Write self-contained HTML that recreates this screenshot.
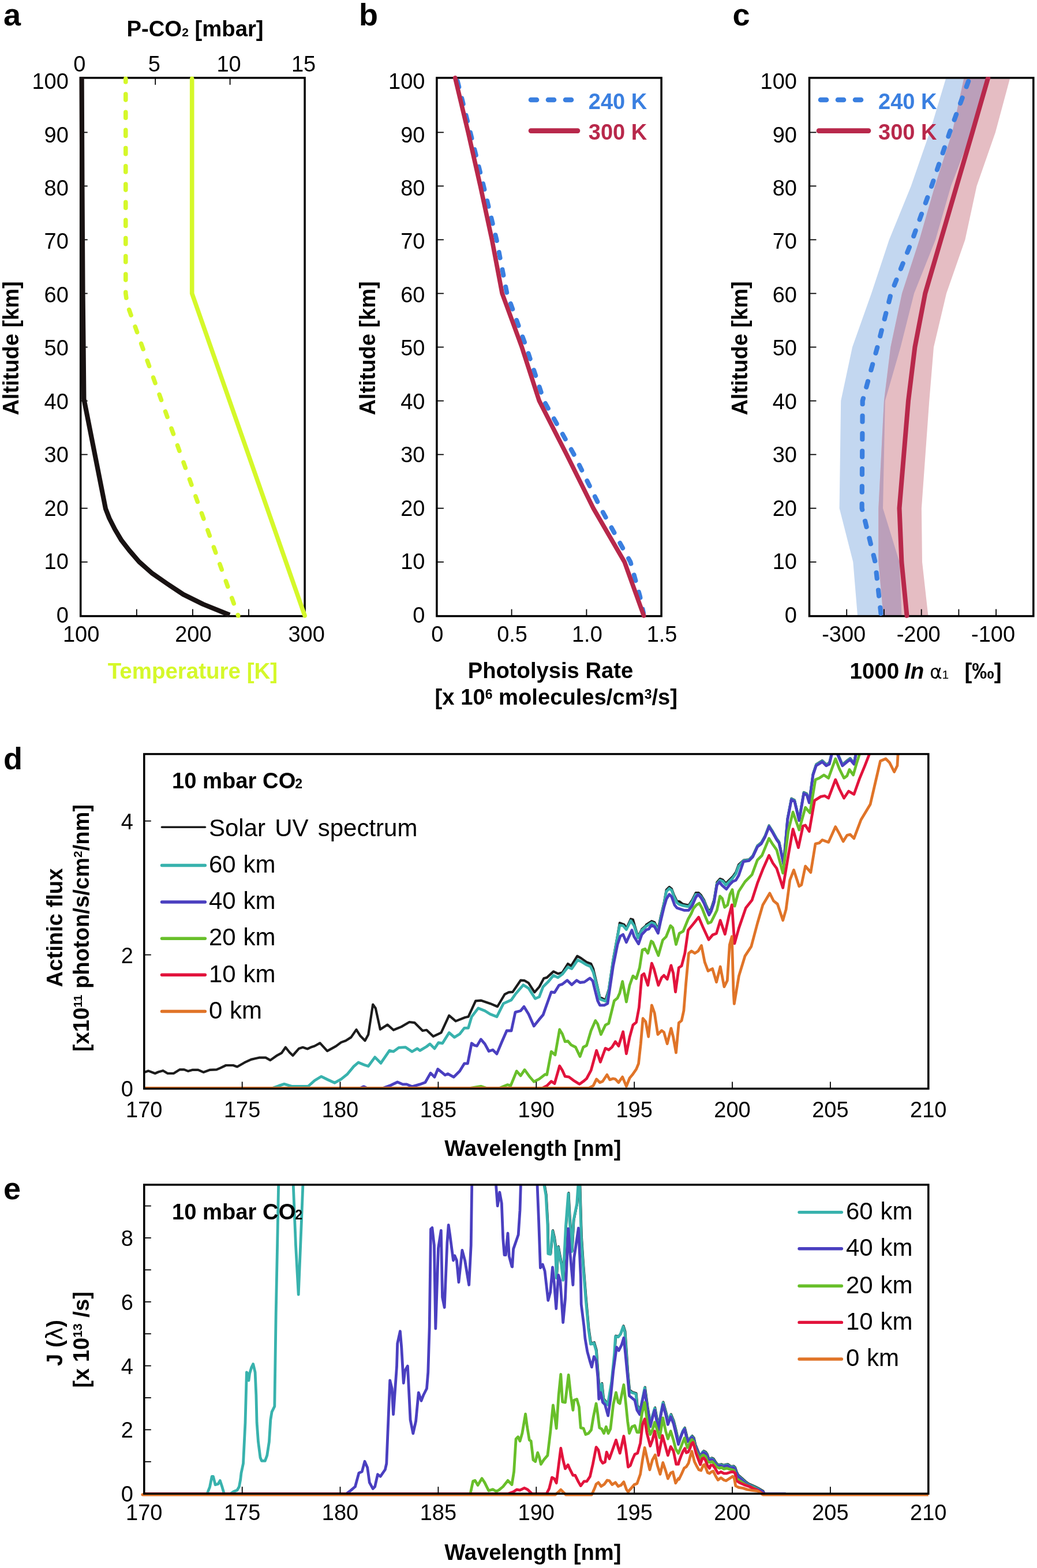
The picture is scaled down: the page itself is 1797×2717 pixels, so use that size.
<!DOCTYPE html>
<html><head><meta charset="utf-8"><title>Figure</title>
<style>html,body{margin:0;padding:0;background:#fff;}svg{display:block;}</style>
</head><body>
<svg width="1797" height="2717" viewBox="0 0 1797 2717">
<rect width="1797" height="2717" fill="#fff"/>
<defs>
<clipPath id="clipd"><rect x="249.8" y="1306.6" width="1359.0" height="585.8"/></clipPath>
<clipPath id="clipe"><rect x="243.8" y="2052.9" width="1365.0" height="541.3"/></clipPath>
<clipPath id="clipc"><rect x="1402.5" y="134.9" width="388.3" height="932.7"/></clipPath>
<clipPath id="clipc2"><rect x="1402.5" y="133.2" width="388.3" height="937.7"/></clipPath>
</defs>
<text x="6.0" y="44.0" font-size="54" text-anchor="start" font-weight="bold" fill="#000" font-family='"Liberation Sans", Arial, Helvetica, sans-serif' >a</text>
<rect x="139.7" y="134.9" width="388.4" height="932.7" fill="none" stroke="#000" stroke-width="3.5"/>
<line x1="139.7" y1="973.8" x2="151.7" y2="973.8" stroke="#000" stroke-width="1.8" />
<line x1="139.7" y1="880.7" x2="151.7" y2="880.7" stroke="#000" stroke-width="1.8" />
<line x1="139.7" y1="787.6" x2="151.7" y2="787.6" stroke="#000" stroke-width="1.8" />
<line x1="139.7" y1="694.6" x2="151.7" y2="694.6" stroke="#000" stroke-width="1.8" />
<line x1="139.7" y1="601.5" x2="151.7" y2="601.5" stroke="#000" stroke-width="1.8" />
<line x1="139.7" y1="508.5" x2="151.7" y2="508.5" stroke="#000" stroke-width="1.8" />
<line x1="139.7" y1="415.4" x2="151.7" y2="415.4" stroke="#000" stroke-width="1.8" />
<line x1="139.7" y1="322.4" x2="151.7" y2="322.4" stroke="#000" stroke-width="1.8" />
<line x1="139.7" y1="229.4" x2="151.7" y2="229.4" stroke="#000" stroke-width="1.8" />
<line x1="236.8" y1="1067.6" x2="236.8" y2="1055.6" stroke="#000" stroke-width="1.8" />
<line x1="333.9" y1="1067.6" x2="333.9" y2="1055.6" stroke="#000" stroke-width="1.8" />
<line x1="431.0" y1="1067.6" x2="431.0" y2="1055.6" stroke="#000" stroke-width="1.8" />
<line x1="269.2" y1="134.9" x2="269.2" y2="146.9" stroke="#000" stroke-width="1.8" />
<line x1="398.6" y1="134.9" x2="398.6" y2="146.9" stroke="#000" stroke-width="1.8" />
<polyline points="217.8,136.3 217.8,508.5 220.3,527.1 412.7,1066.8" fill="none" stroke="#d5f82a" stroke-width="7.6" stroke-linejoin="round" stroke-dasharray="10.1 21.1" stroke-dashoffset="4.5" stroke-linecap="round"/>
<polyline points="332.7,136.3 332.7,508.5 528.1,1066.8" fill="none" stroke="#d5f82a" stroke-width="7.6" stroke-linejoin="round" stroke-linecap="round" />
<polyline points="141.6,133.3 142.4,320.0 143.5,507.0 144.5,600.0 145.4,691.4 183.0,881.5 189.4,898.0 199.0,917.0 210.5,936.3 223.9,953.5 241.0,973.4 264.0,993.7 289.0,1011.0 317.6,1030.0 352.0,1047.0 398.0,1065.6" fill="none" stroke="#181212" stroke-width="8.2" stroke-linejoin="round" stroke-linecap="butt"/>
<text x="118.8" y="1078.5" font-size="38" text-anchor="end" font-weight="normal" fill="#000" font-family='"Liberation Sans", Arial, Helvetica, sans-serif' >0</text>
<text x="118.8" y="986.1" font-size="38" text-anchor="end" font-weight="normal" fill="#000" font-family='"Liberation Sans", Arial, Helvetica, sans-serif' >10</text>
<text x="118.8" y="893.6" font-size="38" text-anchor="end" font-weight="normal" fill="#000" font-family='"Liberation Sans", Arial, Helvetica, sans-serif' >20</text>
<text x="118.8" y="801.1" font-size="38" text-anchor="end" font-weight="normal" fill="#000" font-family='"Liberation Sans", Arial, Helvetica, sans-serif' >30</text>
<text x="118.8" y="708.7" font-size="38" text-anchor="end" font-weight="normal" fill="#000" font-family='"Liberation Sans", Arial, Helvetica, sans-serif' >40</text>
<text x="118.8" y="616.2" font-size="38" text-anchor="end" font-weight="normal" fill="#000" font-family='"Liberation Sans", Arial, Helvetica, sans-serif' >50</text>
<text x="118.8" y="523.8" font-size="38" text-anchor="end" font-weight="normal" fill="#000" font-family='"Liberation Sans", Arial, Helvetica, sans-serif' >60</text>
<text x="118.8" y="431.3" font-size="38" text-anchor="end" font-weight="normal" fill="#000" font-family='"Liberation Sans", Arial, Helvetica, sans-serif' >70</text>
<text x="118.8" y="338.9" font-size="38" text-anchor="end" font-weight="normal" fill="#000" font-family='"Liberation Sans", Arial, Helvetica, sans-serif' >80</text>
<text x="118.8" y="246.5" font-size="38" text-anchor="end" font-weight="normal" fill="#000" font-family='"Liberation Sans", Arial, Helvetica, sans-serif' >90</text>
<text x="118.8" y="154.0" font-size="38" text-anchor="end" font-weight="normal" fill="#000" font-family='"Liberation Sans", Arial, Helvetica, sans-serif' >100</text>
<text x="140.7" y="1111.5" font-size="38" text-anchor="middle" font-weight="normal" fill="#000" font-family='"Liberation Sans", Arial, Helvetica, sans-serif' >100</text>
<text x="334.9" y="1111.5" font-size="38" text-anchor="middle" font-weight="normal" fill="#000" font-family='"Liberation Sans", Arial, Helvetica, sans-serif' >200</text>
<text x="531.1" y="1111.5" font-size="38" text-anchor="middle" font-weight="normal" fill="#000" font-family='"Liberation Sans", Arial, Helvetica, sans-serif' >300</text>
<text x="137.7" y="123.5" font-size="38" text-anchor="middle" font-weight="normal" fill="#000" font-family='"Liberation Sans", Arial, Helvetica, sans-serif' >0</text>
<text x="267.2" y="123.5" font-size="38" text-anchor="middle" font-weight="normal" fill="#000" font-family='"Liberation Sans", Arial, Helvetica, sans-serif' >5</text>
<text x="396.6" y="123.5" font-size="38" text-anchor="middle" font-weight="normal" fill="#000" font-family='"Liberation Sans", Arial, Helvetica, sans-serif' >10</text>
<text x="526.1" y="123.5" font-size="38" text-anchor="middle" font-weight="normal" fill="#000" font-family='"Liberation Sans", Arial, Helvetica, sans-serif' >15</text>
<text x="338.0" y="62.7" font-size="38.3" text-anchor="middle" font-weight="bold" fill="#000" font-family='"Liberation Sans", Arial, Helvetica, sans-serif' >P-CO<tspan font-size="21">2</tspan> [mbar]</text>
<text x="333.9" y="1176.0" font-size="38.5" text-anchor="middle" font-weight="bold" fill="#d5f82a" font-family='"Liberation Sans", Arial, Helvetica, sans-serif' >Temperature [K]</text>
<text x="31.8" y="603.5" font-size="38" text-anchor="middle" font-weight="bold" fill="#000" font-family='"Liberation Sans", Arial, Helvetica, sans-serif' transform="rotate(-90 31.8 603.5)">Altitude [km]</text>
<text x="622.0" y="44.0" font-size="54" text-anchor="start" font-weight="bold" fill="#000" font-family='"Liberation Sans", Arial, Helvetica, sans-serif' >b</text>
<rect x="756.9" y="134.9" width="389.2" height="932.7" fill="none" stroke="#000" stroke-width="3.5"/>
<line x1="756.9" y1="973.8" x2="768.9" y2="973.8" stroke="#000" stroke-width="1.8" />
<line x1="756.9" y1="880.7" x2="768.9" y2="880.7" stroke="#000" stroke-width="1.8" />
<line x1="756.9" y1="787.6" x2="768.9" y2="787.6" stroke="#000" stroke-width="1.8" />
<line x1="756.9" y1="694.6" x2="768.9" y2="694.6" stroke="#000" stroke-width="1.8" />
<line x1="756.9" y1="601.5" x2="768.9" y2="601.5" stroke="#000" stroke-width="1.8" />
<line x1="756.9" y1="508.5" x2="768.9" y2="508.5" stroke="#000" stroke-width="1.8" />
<line x1="756.9" y1="415.4" x2="768.9" y2="415.4" stroke="#000" stroke-width="1.8" />
<line x1="756.9" y1="322.4" x2="768.9" y2="322.4" stroke="#000" stroke-width="1.8" />
<line x1="756.9" y1="229.4" x2="768.9" y2="229.4" stroke="#000" stroke-width="1.8" />
<line x1="886.6" y1="1067.6" x2="886.6" y2="1055.6" stroke="#000" stroke-width="1.8" />
<line x1="1016.4" y1="1067.6" x2="1016.4" y2="1055.6" stroke="#000" stroke-width="1.8" />
<polyline points="791.4,134.9 815.0,229.4 838.0,322.4 860.5,415.4 878.5,508.5 912.0,601.5 942.6,694.6 994.7,787.6 1041.0,880.7 1092.5,973.8 1109.0,1033.3 1115.0,1062.1" fill="none" stroke="#3a7fe0" stroke-width="8" stroke-linejoin="round" stroke-linecap="round" stroke-dasharray="10 20.5" stroke-dashoffset="-6"/>
<polyline points="788.7,134.9 811.3,229.4 832.4,322.4 852.5,415.4 870.2,508.5 904.3,601.5 934.4,694.6 981.9,787.6 1028.2,880.7 1082.2,973.8 1115.6,1066.8" fill="none" stroke="#b8284b" stroke-width="7.7" stroke-linejoin="round" stroke-linecap="round" />
<text x="736.5" y="1078.5" font-size="38" text-anchor="end" font-weight="normal" fill="#000" font-family='"Liberation Sans", Arial, Helvetica, sans-serif' >0</text>
<text x="736.5" y="986.1" font-size="38" text-anchor="end" font-weight="normal" fill="#000" font-family='"Liberation Sans", Arial, Helvetica, sans-serif' >10</text>
<text x="736.5" y="893.6" font-size="38" text-anchor="end" font-weight="normal" fill="#000" font-family='"Liberation Sans", Arial, Helvetica, sans-serif' >20</text>
<text x="736.5" y="801.1" font-size="38" text-anchor="end" font-weight="normal" fill="#000" font-family='"Liberation Sans", Arial, Helvetica, sans-serif' >30</text>
<text x="736.5" y="708.7" font-size="38" text-anchor="end" font-weight="normal" fill="#000" font-family='"Liberation Sans", Arial, Helvetica, sans-serif' >40</text>
<text x="736.5" y="616.2" font-size="38" text-anchor="end" font-weight="normal" fill="#000" font-family='"Liberation Sans", Arial, Helvetica, sans-serif' >50</text>
<text x="736.5" y="523.8" font-size="38" text-anchor="end" font-weight="normal" fill="#000" font-family='"Liberation Sans", Arial, Helvetica, sans-serif' >60</text>
<text x="736.5" y="431.3" font-size="38" text-anchor="end" font-weight="normal" fill="#000" font-family='"Liberation Sans", Arial, Helvetica, sans-serif' >70</text>
<text x="736.5" y="338.9" font-size="38" text-anchor="end" font-weight="normal" fill="#000" font-family='"Liberation Sans", Arial, Helvetica, sans-serif' >80</text>
<text x="736.5" y="246.5" font-size="38" text-anchor="end" font-weight="normal" fill="#000" font-family='"Liberation Sans", Arial, Helvetica, sans-serif' >90</text>
<text x="736.5" y="154.0" font-size="38" text-anchor="end" font-weight="normal" fill="#000" font-family='"Liberation Sans", Arial, Helvetica, sans-serif' >100</text>
<text x="757.9" y="1111.5" font-size="38" text-anchor="middle" font-weight="normal" fill="#000" font-family='"Liberation Sans", Arial, Helvetica, sans-serif' >0</text>
<text x="887.6" y="1111.5" font-size="38" text-anchor="middle" font-weight="normal" fill="#000" font-family='"Liberation Sans", Arial, Helvetica, sans-serif' >0.5</text>
<text x="1017.4" y="1111.5" font-size="38" text-anchor="middle" font-weight="normal" fill="#000" font-family='"Liberation Sans", Arial, Helvetica, sans-serif' >1.0</text>
<text x="1147.1" y="1111.5" font-size="38" text-anchor="middle" font-weight="normal" fill="#000" font-family='"Liberation Sans", Arial, Helvetica, sans-serif' >1.5</text>
<line x1="916.0" y1="173.0" x2="995.0" y2="173.0" stroke="#3a7fe0" stroke-width="8.6" stroke-dasharray="10 20" stroke-linecap="round" stroke-dashoffset="-4"/>
<text x="1019.8" y="188.7" font-size="38" text-anchor="start" font-weight="bold" fill="#3a7fe0" font-family='"Liberation Sans", Arial, Helvetica, sans-serif' >240 K</text>
<line x1="920.0" y1="226.6" x2="1001.0" y2="226.6" stroke="#b8284b" stroke-width="8.6" stroke-linecap="round"/>
<text x="1019.8" y="241.9" font-size="38" text-anchor="start" font-weight="bold" fill="#b8284b" font-family='"Liberation Sans", Arial, Helvetica, sans-serif' >300 K</text>
<text x="954.0" y="1175.0" font-size="38.2" text-anchor="middle" font-weight="bold" fill="#000" font-family='"Liberation Sans", Arial, Helvetica, sans-serif' >Photolysis Rate</text>
<text x="963.8" y="1221.0" font-size="38.2" text-anchor="middle" font-weight="bold" fill="#000" font-family='"Liberation Sans", Arial, Helvetica, sans-serif' >[x 10<tspan font-size="23" dy="-10">6</tspan><tspan dy="10"> molecules/cm</tspan><tspan font-size="23" dy="-10">3</tspan><tspan dy="10">/s]</tspan></text>
<text x="649.8" y="603.5" font-size="38" text-anchor="middle" font-weight="bold" fill="#000" font-family='"Liberation Sans", Arial, Helvetica, sans-serif' transform="rotate(-90 649.8 603.5)">Altitude [km]</text>
<text x="1269.5" y="44.0" font-size="54" text-anchor="start" font-weight="bold" fill="#000" font-family='"Liberation Sans", Arial, Helvetica, sans-serif' >c</text>
<g clip-path="url(#clipc)">
<clipPath id="clipred"><polygon points="1530.7,1066.8 1522.3,973.8 1522.3,880.7 1531.9,694.6 1543.3,601.5 1563.0,508.5 1593.2,415.4 1620.0,322.4 1650.1,229.4 1670.2,136.3 1750.0,136.3 1724.9,229.4 1692.5,322.4 1672.4,415.4 1640.0,508.5 1618.0,601.5 1610.3,694.6 1596.9,880.7 1598.0,973.8 1608.4,1066.8"/></clipPath>
<polygon points="1486.0,1066.8 1478.3,973.8 1454.6,880.7 1457.2,694.6 1477.0,601.5 1510.0,508.5 1540.8,415.4 1578.7,322.4 1611.0,229.4 1639.0,136.3 1709.0,136.3 1683.6,229.4 1647.9,322.4 1621.1,415.4 1584.0,508.5 1560.6,601.5 1533.8,694.6 1530.0,880.7 1558.6,973.8 1562.5,1066.8" fill="#c3d7f0"/>
<polygon points="1530.7,1066.8 1522.3,973.8 1522.3,880.7 1531.9,694.6 1543.3,601.5 1563.0,508.5 1593.2,415.4 1620.0,322.4 1650.1,229.4 1670.2,136.3 1750.0,136.3 1724.9,229.4 1692.5,322.4 1672.4,415.4 1640.0,508.5 1618.0,601.5 1610.3,694.6 1596.9,880.7 1598.0,973.8 1608.4,1066.8" fill="#e5bdc3"/>
<polygon points="1486.0,1066.8 1478.3,973.8 1454.6,880.7 1457.2,694.6 1477.0,601.5 1510.0,508.5 1540.8,415.4 1578.7,322.4 1611.0,229.4 1639.0,136.3 1709.0,136.3 1683.6,229.4 1647.9,322.4 1621.1,415.4 1584.0,508.5 1560.6,601.5 1533.8,694.6 1530.0,880.7 1558.6,973.8 1562.5,1066.8" fill="#bb9fba" clip-path="url(#clipred)"/>
</g>
<rect x="1402.5" y="134.9" width="388.3" height="932.7" fill="none" stroke="#000" stroke-width="3.5"/>
<line x1="1402.5" y1="973.8" x2="1414.5" y2="973.8" stroke="#000" stroke-width="1.8" />
<line x1="1402.5" y1="880.7" x2="1414.5" y2="880.7" stroke="#000" stroke-width="1.8" />
<line x1="1402.5" y1="787.6" x2="1414.5" y2="787.6" stroke="#000" stroke-width="1.8" />
<line x1="1402.5" y1="694.6" x2="1414.5" y2="694.6" stroke="#000" stroke-width="1.8" />
<line x1="1402.5" y1="601.5" x2="1414.5" y2="601.5" stroke="#000" stroke-width="1.8" />
<line x1="1402.5" y1="508.5" x2="1414.5" y2="508.5" stroke="#000" stroke-width="1.8" />
<line x1="1402.5" y1="415.4" x2="1414.5" y2="415.4" stroke="#000" stroke-width="1.8" />
<line x1="1402.5" y1="322.4" x2="1414.5" y2="322.4" stroke="#000" stroke-width="1.8" />
<line x1="1402.5" y1="229.4" x2="1414.5" y2="229.4" stroke="#000" stroke-width="1.8" />
<line x1="1467.2" y1="1067.6" x2="1467.2" y2="1055.6" stroke="#000" stroke-width="1.8" />
<line x1="1531.9" y1="1067.6" x2="1531.9" y2="1055.6" stroke="#000" stroke-width="1.8" />
<line x1="1596.7" y1="1067.6" x2="1596.7" y2="1055.6" stroke="#000" stroke-width="1.8" />
<line x1="1661.4" y1="1067.6" x2="1661.4" y2="1055.6" stroke="#000" stroke-width="1.8" />
<line x1="1726.1" y1="1067.6" x2="1726.1" y2="1055.6" stroke="#000" stroke-width="1.8" />
<g clip-path="url(#clipc2)">
<polyline points="1526.9,1066.8 1516.6,973.8 1493.6,880.7 1494.7,694.6 1520.4,601.5 1544.0,508.5 1581.0,415.4 1614.4,322.4 1645.7,229.4 1680.3,134.9" fill="none" stroke="#3a7fe0" stroke-width="8.2" stroke-linejoin="round" stroke-linecap="round" stroke-dasharray="10 20.5" stroke-dashoffset="-4"/>
<polyline points="1571.5,1066.8 1562.4,973.8 1558.5,880.7 1574.0,694.6 1585.4,601.5 1603.2,508.5 1630.5,415.4 1657.7,322.4 1685.0,229.4 1712.2,134.9" fill="none" stroke="#b8284b" stroke-width="8.0" stroke-linejoin="round" stroke-linecap="round" />
</g>
<text x="1381.0" y="1078.5" font-size="38" text-anchor="end" font-weight="normal" fill="#000" font-family='"Liberation Sans", Arial, Helvetica, sans-serif' >0</text>
<text x="1381.0" y="986.1" font-size="38" text-anchor="end" font-weight="normal" fill="#000" font-family='"Liberation Sans", Arial, Helvetica, sans-serif' >10</text>
<text x="1381.0" y="893.6" font-size="38" text-anchor="end" font-weight="normal" fill="#000" font-family='"Liberation Sans", Arial, Helvetica, sans-serif' >20</text>
<text x="1381.0" y="801.1" font-size="38" text-anchor="end" font-weight="normal" fill="#000" font-family='"Liberation Sans", Arial, Helvetica, sans-serif' >30</text>
<text x="1381.0" y="708.7" font-size="38" text-anchor="end" font-weight="normal" fill="#000" font-family='"Liberation Sans", Arial, Helvetica, sans-serif' >40</text>
<text x="1381.0" y="616.2" font-size="38" text-anchor="end" font-weight="normal" fill="#000" font-family='"Liberation Sans", Arial, Helvetica, sans-serif' >50</text>
<text x="1381.0" y="523.8" font-size="38" text-anchor="end" font-weight="normal" fill="#000" font-family='"Liberation Sans", Arial, Helvetica, sans-serif' >60</text>
<text x="1381.0" y="431.3" font-size="38" text-anchor="end" font-weight="normal" fill="#000" font-family='"Liberation Sans", Arial, Helvetica, sans-serif' >70</text>
<text x="1381.0" y="338.9" font-size="38" text-anchor="end" font-weight="normal" fill="#000" font-family='"Liberation Sans", Arial, Helvetica, sans-serif' >80</text>
<text x="1381.0" y="246.5" font-size="38" text-anchor="end" font-weight="normal" fill="#000" font-family='"Liberation Sans", Arial, Helvetica, sans-serif' >90</text>
<text x="1381.0" y="154.0" font-size="38" text-anchor="end" font-weight="normal" fill="#000" font-family='"Liberation Sans", Arial, Helvetica, sans-serif' >100</text>
<text x="1462.2" y="1111.5" font-size="38" text-anchor="middle" font-weight="normal" fill="#000" font-family='"Liberation Sans", Arial, Helvetica, sans-serif' >-300</text>
<text x="1591.7" y="1111.5" font-size="38" text-anchor="middle" font-weight="normal" fill="#000" font-family='"Liberation Sans", Arial, Helvetica, sans-serif' >-200</text>
<text x="1721.1" y="1111.5" font-size="38" text-anchor="middle" font-weight="normal" fill="#000" font-family='"Liberation Sans", Arial, Helvetica, sans-serif' >-100</text>
<line x1="1418.0" y1="173.0" x2="1497.0" y2="173.0" stroke="#3a7fe0" stroke-width="8.6" stroke-dasharray="10 20" stroke-linecap="round" stroke-dashoffset="-4"/>
<text x="1522.0" y="188.7" font-size="38" text-anchor="start" font-weight="bold" fill="#3a7fe0" font-family='"Liberation Sans", Arial, Helvetica, sans-serif' >240 K</text>
<line x1="1419.0" y1="226.6" x2="1505.0" y2="226.6" stroke="#b8284b" stroke-width="8.6" stroke-linecap="round"/>
<text x="1522.0" y="241.9" font-size="38" text-anchor="start" font-weight="bold" fill="#b8284b" font-family='"Liberation Sans", Arial, Helvetica, sans-serif' >300 K</text>
<text x="1472.5" y="1175.5" font-size="38.5" text-anchor="start" font-weight="bold" fill="#000" font-family='"Liberation Sans", Arial, Helvetica, sans-serif' >1000<tspan x="1567" font-style="italic">In</tspan><tspan x="1611" font-weight="normal" font-family="'DejaVu Sans', sans-serif" font-size="33">&#945;</tspan><tspan x="1632.5" font-weight="normal" font-size="21">1</tspan><tspan x="1671.5">[&#8240;]</tspan></text>
<text x="1294.6" y="603.5" font-size="38" text-anchor="middle" font-weight="bold" fill="#000" font-family='"Liberation Sans", Arial, Helvetica, sans-serif' transform="rotate(-90 1294.6 603.5)">Altitude [km]</text>
<text x="6.0" y="1333.0" font-size="54" text-anchor="start" font-weight="bold" fill="#000" font-family='"Liberation Sans", Arial, Helvetica, sans-serif' >d</text>
<g clip-path="url(#clipd)">
<polyline points="240.0,1859.1 246.9,1859.1 257.2,1855.6 268.7,1860.0 274.4,1857.5 282.5,1855.2 290.5,1860.0 300.8,1860.0 311.2,1853.4 319.2,1853.4 326.1,1856.1 334.1,1853.8 343.3,1853.8 352.5,1857.9 364.0,1853.8 375.4,1853.4 382.3,1850.4 391.5,1846.0 404.1,1846.0 411.0,1848.5 423.7,1841.2 435.1,1835.9 442.0,1834.3 448.9,1832.7 460.4,1832.7 468.4,1837.1 478.8,1829.7 487.9,1824.7 494.8,1814.8 501.7,1823.5 507.4,1829.0 517.8,1817.1 524.7,1814.8 532.7,1817.5 538.4,1814.8 545.3,1812.5 554.5,1807.4 567.1,1821.2 582.1,1812.9 591.2,1806.1 599.2,1803.2 608.4,1797.4 617.5,1784.1 624.4,1795.1 632.5,1803.2 638.2,1792.8 646.2,1740.5 650.8,1746.9 658.9,1783.7 671.5,1775.6 681.8,1784.8 695.6,1779.1 709.4,1771.0 718.6,1772.2 732.3,1786.0 739.2,1784.8 750.7,1795.8 764.5,1789.4 778.2,1759.6 789.7,1769.4 805.8,1763.0 811.5,1761.8 824.2,1734.3 833.3,1733.6 849.4,1738.9 862.0,1744.2 874.7,1722.8 881.6,1719.4 888.4,1718.9 902.2,1698.7 909.1,1699.2 916.0,1703.3 926.3,1719.4 934.4,1710.2 942.4,1695.3 947.7,1693.9 959.1,1683.4 966.8,1687.2 974.4,1685.3 984.0,1670.0 989.7,1673.8 1000.3,1656.6 1007.0,1660.4 1016.5,1667.1 1024.2,1670.0 1028.0,1678.6 1035.7,1711.1 1039.5,1728.4 1044.3,1730.3 1049.1,1733.1 1054.8,1715.0 1062.4,1663.3 1070.1,1621.2 1073.9,1599.2 1081.6,1602.1 1085.4,1608.8 1093.1,1592.5 1096.9,1593.5 1105.5,1623.1 1112.2,1610.1 1118.9,1604.4 1120.0,1602.3 1129.2,1596.2 1134.3,1598.3 1140.4,1610.5 1144.5,1590.1 1150.6,1564.6 1154.7,1542.1 1159.8,1537.0 1163.9,1540.1 1168.0,1551.3 1173.1,1561.5 1177.1,1562.0 1183.3,1566.6 1193.5,1568.7 1199.6,1559.5 1205.7,1547.2 1210.8,1547.2 1214.9,1551.3 1220.0,1559.5 1224.1,1569.7 1228.7,1579.9 1232.2,1574.8 1237.3,1559.5 1242.4,1528.9 1247.6,1522.8 1252.7,1524.8 1257.8,1530.9 1262.9,1525.8 1270.0,1518.7 1275.1,1511.5 1280.0,1498.3 1288.4,1490.7 1297.8,1489.4 1304.5,1482.7 1312.5,1465.3 1319.2,1459.9 1325.9,1447.9 1332.6,1430.5 1339.3,1441.2 1346.0,1453.2 1350.0,1458.6 1358.0,1496.1 1364.7,1418.4 1371.4,1383.6 1376.8,1386.3 1384.8,1419.7 1392.9,1372.9 1398.2,1375.5 1402.3,1388.9 1408.9,1340.7 1414.3,1324.6 1425.0,1317.9 1431.7,1324.6 1437.1,1322.0 1442.4,1300.5 1447.8,1292.5 1451.8,1305.9 1459.8,1324.6 1467.9,1317.9 1473.2,1313.9 1479.9,1322.0 1484.0,1300.5 1488.0,1289.8" fill="none" stroke="#1c1c1c" stroke-width="4.2" stroke-linejoin="round" stroke-linecap="round" />
<polyline points="240.0,1885.4 419.1,1885.4 423.7,1885.4 428.2,1885.4 442.0,1885.4 446.6,1885.4 471.9,1885.4 483.3,1881.4 492.5,1878.4 506.3,1882.5 533.8,1882.5 545.3,1872.2 556.8,1865.3 568.3,1871.0 579.8,1876.3 591.2,1869.9 601.5,1861.7 613.0,1847.9 621.0,1841.0 631.3,1845.2 638.2,1847.5 649.7,1831.9 660.0,1842.2 674.9,1820.4 681.8,1822.2 691.0,1815.3 702.5,1814.6 714.0,1822.2 723.1,1816.9 727.7,1820.4 739.2,1813.5 745.0,1808.9 753.0,1816.9 759.9,1806.6 766.8,1807.8 778.2,1789.4 787.4,1797.4 796.6,1791.7 804.6,1781.4 811.5,1781.4 817.3,1761.8 828.8,1746.9 840.2,1751.5 849.4,1757.3 860.9,1761.8 872.4,1738.9 886.1,1732.7 893.0,1722.8 906.8,1706.7 916.0,1712.5 927.5,1730.4 934.4,1727.4 941.2,1709.7 949.6,1701.6 959.1,1690.1 966.8,1693.9 974.4,1688.2 984.0,1675.8 990.7,1678.6 1001.2,1663.3 1008.9,1667.1 1016.5,1671.9 1023.2,1674.8 1028.0,1684.4 1035.7,1713.1 1039.5,1731.2 1044.3,1733.1 1050.0,1735.1 1054.8,1716.9 1062.4,1665.2 1070.1,1623.1 1073.9,1603.0 1079.7,1604.0 1085.4,1610.7 1093.1,1595.4 1098.8,1604.0 1105.5,1625.1 1112.2,1611.7 1118.9,1605.9 1120.0,1604.9 1129.2,1598.8 1134.3,1600.8 1140.4,1613.1 1144.5,1592.7 1150.6,1567.1 1154.7,1544.7 1159.8,1539.6 1163.9,1542.7 1168.0,1553.9 1173.1,1564.1 1177.1,1567.1 1183.3,1569.2 1193.5,1571.2 1199.6,1562.0 1205.7,1549.8 1210.8,1549.8 1214.9,1553.9 1220.0,1562.0 1224.1,1572.2 1228.7,1582.4 1232.2,1577.3 1237.3,1562.0 1242.4,1531.4 1247.6,1525.3 1252.7,1527.3 1257.8,1533.5 1262.9,1528.4 1270.0,1521.2 1275.1,1514.1 1280.0,1500.8 1288.4,1491.5 1297.8,1490.2 1304.5,1483.5 1312.5,1466.1 1319.2,1460.7 1325.9,1448.7 1332.6,1431.3 1339.3,1442.0 1346.0,1454.0 1350.0,1459.4 1358.0,1496.9 1364.7,1419.2 1371.4,1384.4 1376.8,1387.1 1384.8,1420.5 1392.9,1373.7 1398.2,1376.3 1402.3,1389.7 1408.9,1341.5 1414.3,1325.4 1425.0,1318.8 1431.7,1325.4 1437.1,1322.8 1442.4,1301.3 1447.8,1293.3 1451.8,1306.7 1459.8,1325.4 1467.9,1318.8 1473.2,1314.7 1479.9,1322.8 1484.0,1301.3 1488.0,1290.6" fill="none" stroke="#38b2ad" stroke-width="4.8" stroke-linejoin="round" stroke-linecap="round" />
<polyline points="240.0,1885.4 590.0,1885.4 624.4,1885.4 630.2,1882.8 635.9,1885.4 663.5,1885.4 677.2,1880.5 688.7,1875.0 697.9,1878.9 704.8,1878.9 714.0,1882.8 727.7,1878.9 736.9,1875.5 746.1,1859.4 753.0,1866.3 758.7,1852.5 771.4,1862.9 776.0,1860.6 786.3,1866.3 796.6,1856.0 804.6,1842.9 810.4,1842.9 817.3,1807.8 821.9,1811.2 826.5,1812.4 833.3,1800.9 840.2,1808.9 847.1,1821.5 854.0,1819.2 860.9,1826.1 870.1,1804.3 878.1,1786.0 886.1,1786.0 893.0,1753.8 902.2,1751.5 908.0,1744.2 916.0,1757.3 925.2,1777.9 934.4,1766.4 941.2,1758.4 945.7,1745.6 955.3,1718.8 961.0,1719.8 968.7,1707.3 974.4,1705.4 983.0,1698.7 990.7,1706.4 999.3,1698.7 1005.1,1702.5 1012.7,1701.6 1022.3,1694.9 1027.1,1699.7 1035.7,1734.1 1039.5,1741.8 1047.1,1741.8 1052.9,1738.9 1062.4,1674.8 1070.1,1636.5 1074.9,1622.2 1079.7,1619.3 1085.4,1632.7 1095.0,1611.7 1098.8,1623.1 1106.5,1635.6 1112.2,1619.3 1120.0,1611.0 1124.1,1610.0 1129.2,1602.9 1134.3,1605.9 1140.4,1617.1 1144.5,1597.8 1150.6,1572.2 1154.7,1558.0 1159.8,1549.8 1163.9,1553.9 1169.0,1568.2 1173.1,1573.3 1179.2,1575.3 1185.3,1577.3 1193.5,1577.3 1199.6,1569.2 1205.7,1554.9 1209.8,1549.8 1214.9,1555.9 1220.0,1565.1 1224.1,1575.3 1228.7,1585.5 1232.2,1579.4 1237.3,1564.1 1242.4,1533.5 1246.5,1528.4 1251.6,1534.5 1258.8,1540.6 1264.9,1532.4 1270.0,1527.3 1275.1,1525.3 1280.0,1517.1 1288.4,1492.9 1297.8,1491.5 1304.5,1484.8 1312.5,1467.4 1319.2,1462.1 1325.9,1450.0 1332.6,1432.6 1339.3,1443.3 1346.0,1455.4 1350.0,1460.7 1358.0,1498.2 1364.7,1420.5 1371.4,1385.7 1376.8,1388.4 1384.8,1421.9 1392.9,1375.0 1398.2,1377.7 1402.3,1391.1 1408.9,1342.9 1414.3,1326.8 1425.0,1320.1 1431.7,1326.8 1437.1,1324.1 1442.4,1302.7 1447.8,1294.6 1451.8,1308.0 1459.8,1326.8 1467.9,1320.1 1473.2,1316.1 1479.9,1324.1 1484.0,1302.7 1488.0,1292.0" fill="none" stroke="#4a3fc0" stroke-width="4.8" stroke-linejoin="round" stroke-linecap="round" />
<polyline points="240.0,1885.4 590.0,1885.4 815.0,1885.4 833.3,1882.4 842.5,1885.4 865.5,1885.4 879.3,1879.6 885.0,1881.2 895.3,1856.0 902.2,1864.0 909.1,1853.7 918.3,1866.3 925.2,1874.3 934.4,1869.7 944.7,1861.7 947.7,1862.3 955.3,1822.1 962.0,1827.9 969.7,1783.9 974.4,1791.5 979.2,1804.9 984.0,1803.9 989.7,1810.6 997.4,1814.5 1005.1,1830.7 1010.8,1814.5 1016.5,1811.6 1024.2,1785.8 1031.8,1768.5 1035.7,1774.3 1041.4,1792.5 1049.1,1776.2 1054.8,1773.3 1064.4,1734.1 1070.1,1729.3 1073.9,1720.7 1078.7,1700.6 1085.4,1736.0 1091.1,1707.3 1096.9,1691.1 1102.6,1695.8 1108.4,1676.7 1113.1,1646.1 1117.9,1644.2 1122.7,1651.8 1128.5,1630.8 1131.3,1632.7 1140.9,1655.7 1148.5,1628.9 1154.3,1623.1 1161.9,1604.0 1165.8,1607.8 1171.5,1636.5 1177.2,1617.4 1183.9,1613.6 1192.5,1592.5 1197.6,1583.5 1201.6,1574.3 1206.7,1568.2 1211.8,1565.1 1216.9,1574.3 1222.0,1587.6 1227.1,1599.8 1232.2,1597.8 1237.3,1587.6 1242.4,1577.3 1247.6,1552.9 1251.6,1556.9 1255.7,1572.2 1260.8,1568.2 1264.9,1549.8 1269.0,1541.6 1273.1,1570.2 1276.1,1559.0 1280.0,1544.7 1291.1,1527.7 1303.1,1515.6 1312.5,1490.2 1320.5,1482.2 1332.6,1452.7 1339.3,1463.4 1346.0,1472.8 1356.7,1513.0 1366.1,1439.3 1374.1,1407.2 1384.8,1438.0 1395.6,1399.1 1403.6,1408.5 1413.0,1350.9 1419.7,1348.2 1427.7,1342.9 1435.7,1348.2 1447.8,1314.7 1454.5,1332.1 1462.5,1348.2 1467.9,1344.2 1471.9,1333.5 1478.6,1342.9 1484.0,1324.1 1490.7,1302.7 1494.7,1292.0" fill="none" stroke="#68bf2a" stroke-width="4.8" stroke-linejoin="round" stroke-linecap="round" />
<polyline points="240.0,1885.4 940.0,1885.4 947.7,1881.4 955.3,1873.8 961.0,1877.6 969.7,1847.0 974.4,1854.6 979.2,1865.2 985.9,1866.1 993.6,1871.9 1004.1,1878.6 1010.8,1873.8 1016.5,1869.0 1024.2,1854.6 1033.7,1820.2 1040.4,1840.3 1049.1,1816.4 1054.8,1819.2 1060.5,1814.5 1066.3,1804.9 1072.0,1812.5 1079.7,1787.7 1085.4,1825.9 1091.1,1797.2 1096.9,1776.2 1102.6,1771.4 1107.4,1745.6 1112.2,1690.1 1116.0,1687.2 1122.7,1707.3 1129.4,1669.1 1133.2,1678.6 1140.9,1707.3 1146.6,1693.9 1150.5,1690.1 1156.2,1696.8 1162.9,1672.9 1166.7,1686.3 1170.5,1718.8 1176.3,1676.7 1181.1,1673.8 1186.8,1651.8 1192.5,1611.7 1200.0,1602.7 1210.7,1589.3 1218.8,1608.1 1228.1,1628.2 1234.8,1620.1 1241.5,1617.4 1248.2,1594.7 1256.3,1618.8 1263.0,1588.0 1268.3,1567.9 1272.9,1634.9 1280.4,1608.1 1292.4,1573.2 1303.1,1559.8 1312.5,1530.4 1321.9,1506.3 1332.6,1482.2 1339.3,1495.6 1346.0,1504.9 1356.7,1538.4 1366.1,1482.2 1374.1,1436.6 1383.5,1468.8 1391.5,1431.3 1395.6,1429.9 1402.3,1440.6 1411.6,1387.1 1422.3,1380.4 1429.0,1379.0 1435.7,1383.0 1447.8,1350.9 1454.5,1367.0 1462.5,1383.0 1470.6,1371.0 1479.9,1376.3 1489.3,1349.6 1498.7,1326.8 1508.1,1302.7 1513.4,1292.0" fill="none" stroke="#e2133c" stroke-width="4.8" stroke-linejoin="round" stroke-linecap="round" />
<polyline points="240.0,1885.4 940.0,1885.4 959.1,1885.4 969.7,1885.4 978.3,1885.4 1020.4,1885.4 1028.0,1881.4 1033.7,1869.9 1039.5,1875.7 1044.3,1873.8 1051.9,1862.3 1056.7,1870.9 1062.4,1869.0 1066.3,1869.9 1072.0,1875.7 1078.7,1866.1 1085.4,1882.4 1091.1,1868.0 1095.9,1862.3 1102.6,1852.7 1106.5,1843.2 1110.3,1808.7 1114.1,1764.7 1118.9,1770.5 1123.7,1796.3 1129.4,1741.8 1134.2,1755.2 1139.9,1792.5 1146.6,1785.8 1150.5,1788.6 1156.2,1808.7 1162.9,1781.9 1166.7,1797.2 1171.5,1824.0 1176.3,1772.4 1181.1,1768.5 1184.9,1751.3 1188.7,1703.5 1193.5,1651.8 1198.3,1648.0 1204.0,1651.8 1209.8,1648.0 1215.5,1638.4 1221.2,1667.1 1227.0,1682.4 1234.6,1678.6 1241.5,1701.8 1248.2,1675.0 1254.9,1709.9 1260.3,1699.1 1264.3,1637.5 1268.3,1622.8 1271.0,1717.9 1272.3,1739.3 1280.4,1691.1 1291.1,1656.3 1301.8,1640.2 1312.5,1600.0 1321.9,1567.9 1333.9,1547.8 1340.6,1561.2 1347.3,1566.5 1356.7,1594.7 1362.1,1575.9 1368.8,1525.0 1375.5,1507.6 1384.8,1535.7 1388.9,1533.1 1395.6,1500.9 1404.9,1511.6 1413.0,1462.1 1419.7,1460.7 1425.0,1455.4 1435.7,1459.4 1447.8,1432.6 1454.5,1444.7 1461.2,1458.0 1467.9,1447.3 1473.2,1446.0 1479.9,1452.7 1492.0,1420.5 1500.0,1407.2 1508.1,1393.8 1517.4,1353.6 1525.5,1318.8 1534.9,1314.7 1541.5,1321.4 1549.6,1337.5 1554.9,1326.8 1556.3,1302.7 1557.6,1292.0" fill="none" stroke="#e07428" stroke-width="4.8" stroke-linejoin="round" stroke-linecap="round" />
</g>
<rect x="249.8" y="1306.6" width="1359.0" height="579.8" fill="none" stroke="#000" stroke-width="3.5"/>
<line x1="249.8" y1="1654.5" x2="261.8" y2="1654.5" stroke="#000" stroke-width="1.8" />
<line x1="249.8" y1="1422.6" x2="261.8" y2="1422.6" stroke="#000" stroke-width="1.8" />
<line x1="419.7" y1="1886.4" x2="419.7" y2="1874.4" stroke="#000" stroke-width="1.8" />
<line x1="589.5" y1="1886.4" x2="589.5" y2="1874.4" stroke="#000" stroke-width="1.8" />
<line x1="759.4" y1="1886.4" x2="759.4" y2="1874.4" stroke="#000" stroke-width="1.8" />
<line x1="929.3" y1="1886.4" x2="929.3" y2="1874.4" stroke="#000" stroke-width="1.8" />
<line x1="1099.2" y1="1886.4" x2="1099.2" y2="1874.4" stroke="#000" stroke-width="1.8" />
<line x1="1269.0" y1="1886.4" x2="1269.0" y2="1874.4" stroke="#000" stroke-width="1.8" />
<line x1="1438.9" y1="1886.4" x2="1438.9" y2="1874.4" stroke="#000" stroke-width="1.8" />
<text x="231.0" y="1900.4" font-size="38" text-anchor="end" font-weight="normal" fill="#000" font-family='"Liberation Sans", Arial, Helvetica, sans-serif' >0</text>
<text x="231.0" y="1668.5" font-size="38" text-anchor="end" font-weight="normal" fill="#000" font-family='"Liberation Sans", Arial, Helvetica, sans-serif' >2</text>
<text x="231.0" y="1436.6" font-size="38" text-anchor="end" font-weight="normal" fill="#000" font-family='"Liberation Sans", Arial, Helvetica, sans-serif' >4</text>
<text x="249.8" y="1936.0" font-size="38" text-anchor="middle" font-weight="normal" fill="#000" font-family='"Liberation Sans", Arial, Helvetica, sans-serif' >170</text>
<text x="419.7" y="1936.0" font-size="38" text-anchor="middle" font-weight="normal" fill="#000" font-family='"Liberation Sans", Arial, Helvetica, sans-serif' >175</text>
<text x="589.5" y="1936.0" font-size="38" text-anchor="middle" font-weight="normal" fill="#000" font-family='"Liberation Sans", Arial, Helvetica, sans-serif' >180</text>
<text x="759.4" y="1936.0" font-size="38" text-anchor="middle" font-weight="normal" fill="#000" font-family='"Liberation Sans", Arial, Helvetica, sans-serif' >185</text>
<text x="929.3" y="1936.0" font-size="38" text-anchor="middle" font-weight="normal" fill="#000" font-family='"Liberation Sans", Arial, Helvetica, sans-serif' >190</text>
<text x="1099.2" y="1936.0" font-size="38" text-anchor="middle" font-weight="normal" fill="#000" font-family='"Liberation Sans", Arial, Helvetica, sans-serif' >195</text>
<text x="1269.0" y="1936.0" font-size="38" text-anchor="middle" font-weight="normal" fill="#000" font-family='"Liberation Sans", Arial, Helvetica, sans-serif' >200</text>
<text x="1438.9" y="1936.0" font-size="38" text-anchor="middle" font-weight="normal" fill="#000" font-family='"Liberation Sans", Arial, Helvetica, sans-serif' >205</text>
<text x="1608.8" y="1936.0" font-size="38" text-anchor="middle" font-weight="normal" fill="#000" font-family='"Liberation Sans", Arial, Helvetica, sans-serif' >210</text>
<text x="923.3" y="2003.0" font-size="38.2" text-anchor="middle" font-weight="bold" fill="#000" font-family='"Liberation Sans", Arial, Helvetica, sans-serif' >Wavelength [nm]</text>
<text x="298.0" y="1365.7" font-size="38.2" text-anchor="start" font-weight="bold" fill="#000" font-family='"Liberation Sans", Arial, Helvetica, sans-serif' >10 mbar CO<tspan font-size="23" dx="-1">2</tspan></text>
<line x1="280.5" y1="1433.2" x2="355.4" y2="1433.2" stroke="#1c1c1c" stroke-width="3.6" stroke-linecap="round"/>
<text x="362.0" y="1448.6" font-size="42" text-anchor="start" font-weight="normal" fill="#000" font-family='"Liberation Sans", Arial, Helvetica, sans-serif' word-spacing="4.5">Solar UV spectrum</text>
<line x1="280.5" y1="1499.5" x2="355.4" y2="1499.5" stroke="#38b2ad" stroke-width="5.4" stroke-linecap="round"/>
<text x="362.0" y="1511.7" font-size="42" text-anchor="start" font-weight="normal" fill="#000" font-family='"Liberation Sans", Arial, Helvetica, sans-serif' word-spacing="1">60 km</text>
<line x1="280.5" y1="1563.0" x2="355.4" y2="1563.0" stroke="#4a3fc0" stroke-width="5.4" stroke-linecap="round"/>
<text x="362.0" y="1575.2" font-size="42" text-anchor="start" font-weight="normal" fill="#000" font-family='"Liberation Sans", Arial, Helvetica, sans-serif' word-spacing="1">40 km</text>
<line x1="280.5" y1="1626.2" x2="355.4" y2="1626.2" stroke="#68bf2a" stroke-width="5.4" stroke-linecap="round"/>
<text x="362.0" y="1638.4" font-size="42" text-anchor="start" font-weight="normal" fill="#000" font-family='"Liberation Sans", Arial, Helvetica, sans-serif' word-spacing="1">20 km</text>
<line x1="280.5" y1="1689.3" x2="355.4" y2="1689.3" stroke="#e2133c" stroke-width="5.4" stroke-linecap="round"/>
<text x="362.0" y="1701.5" font-size="42" text-anchor="start" font-weight="normal" fill="#000" font-family='"Liberation Sans", Arial, Helvetica, sans-serif' word-spacing="1">10 km</text>
<line x1="280.5" y1="1752.5" x2="355.4" y2="1752.5" stroke="#e07428" stroke-width="5.4" stroke-linecap="round"/>
<text x="362.0" y="1764.7" font-size="42" text-anchor="start" font-weight="normal" fill="#000" font-family='"Liberation Sans", Arial, Helvetica, sans-serif' word-spacing="1">0 km</text>
<text transform="translate(107.5 1607.5) rotate(-90)" font-size="38.2" text-anchor="middle" font-weight="bold" font-family='"Liberation Sans", Arial, Helvetica, sans-serif'>Actinic flux</text>
<text transform="translate(153.8 1608) rotate(-90)" font-size="38.2" text-anchor="middle" font-weight="bold" font-family='"Liberation Sans", Arial, Helvetica, sans-serif'>[x10<tspan font-size="21" dy="-12">11</tspan><tspan dy="12"> photon/s/cm</tspan><tspan font-size="21" dy="-12">2</tspan><tspan dy="12">/nm]</tspan></text>
<text x="6.0" y="2078.0" font-size="54" text-anchor="start" font-weight="bold" fill="#000" font-family='"Liberation Sans", Arial, Helvetica, sans-serif' >e</text>
<g clip-path="url(#clipe)">
<polyline points="939.9,2031.8 946.6,2070.0 949.5,2121.7 950.4,2171.4 954.3,2172.4 958.1,2132.2 961.0,2144.6 962.9,2158.0 964.8,2213.5 967.7,2159.9 970.5,2175.3 973.4,2190.6 976.3,2217.3 981.0,2123.6 985.4,2067.2 987.7,2112.1 991.6,2167.6 994.4,2114.0 1000.2,2085.3 1003.0,2045.2 1005.0,2045.2 1007.8,2142.7 1010.7,2186.7 1015.5,2248.0 1020.3,2301.5 1024.1,2328.1 1029.8,2326.2 1033.7,2339.6 1036.5,2377.9 1039.4,2416.1 1043.2,2397.0 1046.1,2423.8 1053.7,2433.3 1060.4,2393.2 1065.2,2345.3 1067.1,2314.7 1071.9,2315.7 1075.8,2310.9 1080.5,2297.5 1083.4,2307.1 1088.2,2377.9 1091.1,2408.5 1095.8,2412.3 1102.5,2414.2 1104.5,2435.3 1109.2,2444.8 1113.1,2427.6 1117.8,2403.7 1122.6,2439.1 1127.4,2467.8 1131.2,2452.5 1135.1,2439.1 1137.9,2454.4 1141.8,2473.5 1145.6,2448.6 1149.4,2429.5 1154.2,2446.7 1158.0,2464.0 1162.8,2450.6 1167.6,2462.0 1171.4,2477.3 1176.2,2498.4 1179.7,2489.3 1183.6,2479.1 1186.7,2474.0 1189.3,2484.2 1191.8,2495.7 1195.7,2491.9 1199.5,2488.1 1202.7,2491.9 1205.2,2503.4 1208.4,2511.0 1211.6,2518.7 1214.8,2525.1 1217.4,2516.1 1219.3,2514.2 1223.1,2516.1 1225.7,2519.9 1228.2,2527.6 1230.8,2527.6 1233.3,2526.3 1236.5,2527.6 1239.7,2532.7 1243.5,2537.8 1247.3,2537.8 1249.9,2537.2 1253.7,2539.1 1257.5,2537.8 1261.4,2537.2 1263.9,2539.1 1266.5,2541.0 1271.6,2540.4 1274.1,2542.9 1276.7,2550.6 1279.2,2555.7 1285.6,2561.4 1292.0,2567.1 1297.1,2571.0 1307.3,2575.4 1313.7,2578.6 1322.6,2583.9 1325.1,2588.5 1360.6,2588.5" fill="none" stroke="#1c1c1c" stroke-width="4.2" stroke-linejoin="round" stroke-linecap="round" />
<polyline points="340.0,2588.5 358.9,2588.5 363.6,2576.3 367.2,2558.5 369.5,2558.5 373.1,2572.7 377.8,2571.5 381.3,2565.6 384.9,2576.3 388.4,2588.5 399.1,2588.5 405.0,2584.5 410.9,2582.2 414.4,2576.3 416.8,2563.3 418.0,2552.6 421.5,2536.1 425.0,2465.2 427.4,2377.8 429.3,2380.2 431.0,2392.0 432.6,2380.2 435.7,2369.6 438.7,2363.6 442.1,2377.8 443.9,2418.0 445.1,2465.2 447.5,2498.3 451.0,2525.5 453.4,2531.4 459.3,2531.4 462.8,2521.9 466.4,2498.3 468.8,2460.5 471.1,2446.3 473.5,2441.6 475.8,2436.9 478.2,2276.2 480.6,2158.1 482.9,2040.0" fill="none" stroke="#38b2ad" stroke-width="4.8" stroke-linejoin="round" stroke-linecap="round" />
<polyline points="507.7,2040.0 512.5,2158.1 517.2,2243.2 520.7,2158.1 523.1,2099.1 525.4,2040.0" fill="none" stroke="#38b2ad" stroke-width="4.8" stroke-linejoin="round" stroke-linecap="round" />
<polyline points="939.3,2032.8 946.0,2071.0 948.9,2122.7 949.8,2172.4 953.7,2173.4 957.5,2133.2 960.4,2145.6 962.3,2159.0 964.2,2214.5 967.1,2160.9 969.9,2176.3 972.8,2191.6 975.7,2218.3 980.4,2124.6 984.8,2068.2 987.1,2113.1 991.0,2168.6 993.8,2115.0 999.6,2086.3 1002.4,2046.2 1004.4,2046.2 1007.2,2143.7 1010.1,2187.7 1014.9,2249.0 1019.7,2302.5 1023.5,2329.1 1029.2,2327.2 1033.1,2340.6 1035.9,2378.9 1038.8,2417.1 1042.6,2398.0 1045.5,2424.8 1053.1,2434.3 1059.8,2394.2 1064.6,2346.3 1066.5,2315.7 1071.3,2316.7 1075.2,2311.9 1079.9,2298.5 1082.8,2308.1 1087.6,2378.9 1090.5,2409.5 1095.2,2413.3 1101.9,2415.2 1103.9,2436.3 1108.6,2445.8 1112.5,2428.6 1117.2,2404.7 1122.0,2440.1 1126.8,2468.8 1130.6,2453.5 1134.5,2440.1 1137.3,2455.4 1141.2,2474.5 1145.0,2449.6 1148.8,2430.5 1153.6,2447.7 1157.4,2465.0 1162.2,2451.6 1167.0,2463.0 1170.8,2478.3 1175.6,2499.4 1179.1,2490.3 1183.0,2480.1 1186.1,2475.0 1188.7,2485.2 1191.2,2496.7 1195.1,2492.9 1198.9,2489.1 1202.1,2492.9 1204.6,2504.4 1207.8,2512.0 1211.0,2519.7 1214.2,2526.1 1216.8,2517.1 1218.7,2515.2 1222.5,2517.1 1225.1,2520.9 1227.6,2528.6 1230.2,2528.6 1232.7,2527.3 1235.9,2528.6 1239.1,2533.7 1242.9,2538.8 1246.7,2538.8 1249.3,2538.2 1253.1,2540.1 1256.9,2538.8 1260.8,2538.2 1263.3,2540.1 1265.9,2542.0 1271.0,2541.4 1273.5,2543.9 1276.1,2551.6 1278.6,2556.7 1285.0,2562.4 1291.4,2568.1 1296.5,2572.0 1306.7,2576.4 1313.1,2579.6 1322.0,2584.9 1324.5,2588.5 1360.0,2588.5" fill="none" stroke="#38b2ad" stroke-width="4.8" stroke-linejoin="round" stroke-linecap="round" />
<polyline points="560.0,2588.5 600.1,2588.5 607.2,2583.1 615.5,2576.0 621.9,2552.4 627.3,2550.0 632.0,2532.3 636.7,2543.0 640.3,2568.9 646.2,2579.6 649.7,2576.0 654.5,2554.8 659.2,2558.3 667.4,2546.5 669.8,2535.9 675.7,2391.8 679.2,2406.0 681.6,2450.9 687.5,2368.2 688.7,2328.1 693.4,2306.8 695.8,2335.2 699.3,2396.6 701.7,2375.3 706.4,2367.0 711.1,2460.3 715.8,2483.9 720.6,2462.7 725.3,2413.1 730.0,2427.2 733.6,2417.8 739.5,2406.0 741.8,2377.7 744.2,2299.7 746.5,2129.7 748.9,2127.4 752.4,2158.1 754.8,2302.1 759.5,2162.8 764.3,2132.1 766.6,2247.8 770.2,2265.5 774.9,2153.3 777.2,2122.6 779.6,2139.2 785.5,2184.0 787.9,2175.8 791.4,2184.0 794.9,2221.8 800.9,2166.3 805.6,2184.0 812.7,2226.5 816.2,2158.1 817.9,2040.0" fill="none" stroke="#4a3fc0" stroke-width="4.8" stroke-linejoin="round" stroke-linecap="round" />
<polyline points="858.0,2032.9 862.2,2089.6 865.8,2066.0 869.3,2084.9 871.7,2146.3 874.0,2174.6 876.4,2174.6 880.0,2136.8 882.3,2177.0 887.0,2194.7 887.7,2195.0 889.6,2164.4 898.2,2139.5 901.0,2097.4 903.0,2034.3" fill="none" stroke="#4a3fc0" stroke-width="4.8" stroke-linejoin="round" stroke-linecap="round" />
<polyline points="930.3,2034.3 933.6,2116.5 936.4,2196.9 940.3,2191.1 944.1,2202.6 949.8,2253.3 953.7,2239.0 957.5,2195.9 960.4,2223.7 963.8,2267.7 967.6,2209.3 970.9,2219.8 975.7,2291.6 979.5,2250.5 984.8,2129.0 988.1,2173.9 992.9,2226.5 994.8,2179.7 1002.4,2128.0 1006.3,2212.2 1007.2,2260.0 1012.0,2298.3 1013.9,2319.1 1017.8,2342.1 1022.5,2359.3 1025.4,2368.9 1029.2,2350.7 1033.1,2357.4 1035.9,2386.1 1037.8,2424.4 1040.7,2412.9 1044.5,2430.1 1048.4,2433.9 1053.7,2453.1 1057.9,2424.4 1062.7,2376.5 1068.5,2334.4 1072.3,2340.2 1077.1,2330.6 1080.9,2318.2 1083.8,2345.9 1087.6,2386.1 1090.5,2418.6 1095.2,2422.4 1100.0,2426.3 1103.9,2443.5 1108.6,2451.1 1112.5,2430.1 1117.2,2409.1 1122.0,2443.5 1126.8,2472.2 1130.6,2456.9 1134.5,2443.5 1137.3,2458.8 1141.2,2477.9 1145.0,2453.1 1148.8,2433.9 1153.6,2451.1 1157.4,2468.4 1162.2,2455.0 1167.0,2466.5 1170.8,2481.8 1175.6,2502.8 1179.1,2491.8 1183.0,2481.6 1186.1,2476.5 1188.7,2486.7 1191.2,2498.2 1195.1,2494.4 1198.9,2490.6 1202.1,2494.4 1204.6,2505.9 1207.8,2513.5 1211.0,2521.2 1214.2,2527.6 1216.8,2518.6 1218.7,2516.7 1222.5,2518.6 1225.1,2522.4 1227.6,2530.1 1230.2,2530.1 1232.7,2528.8 1235.9,2530.1 1239.1,2535.2 1242.9,2540.3 1246.7,2540.3 1249.3,2539.7 1253.1,2541.6 1256.9,2540.3 1260.8,2539.7 1263.3,2541.6 1265.9,2543.5 1271.0,2542.9 1273.5,2545.4 1276.1,2553.1 1278.6,2558.2 1285.0,2563.9 1291.4,2569.6 1296.5,2573.5 1306.7,2577.9 1313.1,2581.1 1322.0,2584.9 1324.5,2588.5 1360.0,2588.5" fill="none" stroke="#4a3fc0" stroke-width="4.8" stroke-linejoin="round" stroke-linecap="round" />
<polyline points="249.8,2588.5 815.0,2588.5 819.7,2566.6 823.3,2565.4 828.0,2573.6 835.1,2561.8 839.8,2568.9 846.9,2583.1 854.0,2580.7 859.9,2584.3 864.6,2581.9 871.7,2576.0 880.0,2565.4 887.0,2572.5 890.6,2550.0 894.1,2493.4 897.7,2489.8 901.0,2497.1 904.9,2483.7 910.6,2450.2 913.5,2472.2 917.3,2495.2 920.2,2497.1 924.0,2529.6 927.8,2532.5 931.7,2517.2 934.5,2524.8 937.4,2537.2 942.2,2529.6 948.9,2521.9 953.7,2481.8 958.4,2434.9 961.3,2453.1 964.2,2475.1 968.0,2418.6 971.8,2381.3 974.7,2429.1 979.5,2430.1 985.2,2382.3 989.1,2418.6 992.9,2443.5 994.8,2426.3 999.6,2424.4 1003.4,2437.8 1006.3,2474.1 1011.1,2475.1 1014.9,2485.6 1019.7,2483.7 1024.5,2477.9 1028.3,2455.0 1033.1,2432.0 1035.9,2451.1 1038.8,2474.1 1042.6,2476.0 1046.5,2483.7 1050.3,2472.2 1054.1,2483.7 1057.9,2476.0 1062.7,2433.9 1067.5,2412.9 1071.3,2430.1 1074.2,2432.0 1080.9,2399.5 1084.7,2433.9 1087.6,2462.6 1090.5,2483.7 1095.2,2472.2 1100.0,2470.3 1103.9,2481.8 1107.7,2481.8 1112.5,2449.2 1117.2,2430.1 1122.0,2466.5 1126.8,2485.6 1130.6,2477.9 1134.5,2464.5 1138.3,2476.0 1143.1,2491.3 1148.8,2456.9 1153.6,2479.8 1157.4,2493.2 1162.2,2479.8 1167.0,2495.2 1170.8,2510.5 1175.6,2518.1 1179.1,2509.7 1183.0,2499.5 1186.1,2491.8 1188.7,2500.8 1191.2,2508.4 1195.1,2500.8 1198.9,2494.4 1202.1,2498.2 1204.6,2511.0 1208.5,2519.9 1213.6,2530.1 1216.1,2522.4 1218.7,2521.2 1222.5,2523.7 1226.3,2532.7 1230.2,2533.9 1234.0,2532.7 1236.5,2535.2 1241.6,2541.6 1246.7,2544.1 1250.6,2542.9 1254.4,2545.4 1259.5,2544.1 1263.3,2545.4 1268.4,2546.7 1272.2,2548.0 1276.1,2562.0 1283.7,2567.1 1291.4,2572.2 1296.5,2574.7 1306.7,2578.6 1322.0,2588.5 1324.5,2588.5" fill="none" stroke="#68bf2a" stroke-width="4.8" stroke-linejoin="round" stroke-linecap="round" />
<polyline points="249.8,2588.5 880.0,2588.5 880.0,2588.5 889.6,2585.1 895.3,2581.2 901.0,2582.2 908.7,2578.4 914.4,2581.2 922.1,2588.5 927.8,2588.5 947.0,2588.5 951.7,2579.3 956.5,2560.2 960.4,2562.1 964.2,2569.8 968.0,2539.2 971.8,2509.5 975.7,2529.6 979.5,2544.9 984.3,2538.2 987.1,2544.9 992.9,2556.4 996.7,2556.4 1002.4,2567.9 1006.3,2574.6 1012.0,2566.9 1016.8,2566.9 1022.5,2558.3 1027.3,2537.2 1033.1,2507.6 1036.9,2512.4 1040.7,2529.6 1044.5,2535.3 1048.4,2533.4 1051.2,2516.2 1056.0,2527.7 1060.8,2514.3 1067.5,2495.2 1071.3,2508.5 1074.2,2518.1 1080.9,2488.5 1084.7,2512.4 1088.5,2542.0 1092.4,2539.2 1096.2,2528.6 1100.0,2520.0 1104.8,2518.1 1109.6,2500.9 1113.4,2468.4 1117.2,2458.8 1121.1,2483.7 1126.8,2505.7 1130.6,2495.2 1134.5,2479.8 1137.3,2493.2 1141.2,2521.9 1145.0,2502.8 1147.9,2487.5 1151.7,2500.9 1157.4,2521.9 1162.2,2506.6 1167.0,2514.3 1171.8,2537.2 1175.6,2537.2 1176.6,2532.7 1180.4,2522.4 1183.6,2514.8 1186.8,2509.7 1189.3,2517.3 1192.5,2516.1 1195.7,2509.7 1198.3,2502.0 1200.8,2499.5 1203.4,2507.1 1205.9,2517.3 1209.7,2527.6 1213.6,2537.8 1216.8,2527.6 1219.3,2526.3 1222.5,2530.1 1226.3,2540.3 1229.5,2544.1 1231.4,2539.0 1235.3,2539.0 1239.1,2544.1 1244.2,2553.1 1249.3,2550.5 1254.4,2553.1 1259.5,2553.1 1263.3,2551.8 1267.1,2550.5 1271.0,2550.5 1274.2,2553.1 1276.1,2565.8 1282.4,2569.6 1291.4,2573.5 1299.0,2576.0 1306.7,2579.8 1313.1,2582.4 1322.0,2588.5 1324.5,2588.5" fill="none" stroke="#e2133c" stroke-width="4.8" stroke-linejoin="round" stroke-linecap="round" />
<polyline points="246.8,2590.0 880.0,2590.0 880.0,2590.0 962.3,2590.0 968.0,2585.1 971.8,2581.2 975.7,2585.1 980.4,2590.0 984.3,2590.0 1025.4,2590.0 1030.2,2579.3 1033.1,2571.7 1036.9,2568.8 1041.7,2575.5 1047.4,2571.7 1052.2,2565.0 1056.0,2565.9 1060.8,2572.6 1066.5,2568.8 1071.3,2575.5 1076.1,2573.6 1080.9,2567.9 1085.7,2581.2 1088.5,2585.1 1092.4,2580.3 1099.1,2572.6 1103.9,2570.7 1109.6,2554.5 1113.4,2529.6 1117.2,2508.5 1121.1,2525.8 1125.9,2546.8 1130.6,2529.6 1135.4,2521.0 1139.2,2539.2 1144.0,2554.5 1148.8,2534.4 1153.6,2548.7 1157.4,2562.1 1162.2,2552.5 1166.0,2550.6 1170.8,2569.8 1175.6,2562.1 1176.6,2563.3 1181.0,2554.3 1185.5,2544.1 1189.3,2541.6 1193.2,2535.2 1196.4,2522.4 1198.9,2514.8 1200.8,2522.4 1203.4,2532.7 1207.2,2540.3 1211.0,2546.7 1214.8,2548.0 1218.7,2539.0 1220.6,2537.8 1223.8,2545.4 1226.3,2551.8 1229.5,2553.1 1232.7,2550.5 1235.9,2549.2 1240.4,2558.2 1244.2,2564.5 1249.3,2560.7 1254.4,2564.5 1258.2,2565.8 1262.0,2563.3 1265.9,2560.7 1269.7,2558.2 1272.2,2560.7 1274.8,2574.7 1279.9,2577.3 1287.6,2578.6 1295.2,2581.1 1302.9,2582.4 1313.1,2583.7 1322.0,2590.0 1325.8,2590.0 1619.2,2590.0" fill="none" stroke="#e07428" stroke-width="4.8" stroke-linejoin="round" stroke-linecap="round" />
</g>
<rect x="249.8" y="2052.9" width="1359.0" height="535.3" fill="none" stroke="#000" stroke-width="3.5"/>
<line x1="249.8" y1="2532.8" x2="261.8" y2="2532.8" stroke="#000" stroke-width="1.8" />
<line x1="249.8" y1="2477.4" x2="261.8" y2="2477.4" stroke="#000" stroke-width="1.8" />
<line x1="249.8" y1="2422.0" x2="261.8" y2="2422.0" stroke="#000" stroke-width="1.8" />
<line x1="249.8" y1="2366.6" x2="261.8" y2="2366.6" stroke="#000" stroke-width="1.8" />
<line x1="249.8" y1="2311.2" x2="261.8" y2="2311.2" stroke="#000" stroke-width="1.8" />
<line x1="249.8" y1="2255.8" x2="261.8" y2="2255.8" stroke="#000" stroke-width="1.8" />
<line x1="249.8" y1="2200.4" x2="261.8" y2="2200.4" stroke="#000" stroke-width="1.8" />
<line x1="249.8" y1="2145.0" x2="261.8" y2="2145.0" stroke="#000" stroke-width="1.8" />
<line x1="249.8" y1="2089.6" x2="261.8" y2="2089.6" stroke="#000" stroke-width="1.8" />
<line x1="419.7" y1="2588.2" x2="419.7" y2="2576.2" stroke="#000" stroke-width="1.8" />
<line x1="589.5" y1="2588.2" x2="589.5" y2="2576.2" stroke="#000" stroke-width="1.8" />
<line x1="759.4" y1="2588.2" x2="759.4" y2="2576.2" stroke="#000" stroke-width="1.8" />
<line x1="929.3" y1="2588.2" x2="929.3" y2="2576.2" stroke="#000" stroke-width="1.8" />
<line x1="1099.2" y1="2588.2" x2="1099.2" y2="2576.2" stroke="#000" stroke-width="1.8" />
<line x1="1269.0" y1="2588.2" x2="1269.0" y2="2576.2" stroke="#000" stroke-width="1.8" />
<line x1="1438.9" y1="2588.2" x2="1438.9" y2="2576.2" stroke="#000" stroke-width="1.8" />
<text x="231.0" y="2602.2" font-size="38" text-anchor="end" font-weight="normal" fill="#000" font-family='"Liberation Sans", Arial, Helvetica, sans-serif' >0</text>
<text x="231.0" y="2491.4" font-size="38" text-anchor="end" font-weight="normal" fill="#000" font-family='"Liberation Sans", Arial, Helvetica, sans-serif' >2</text>
<text x="231.0" y="2380.6" font-size="38" text-anchor="end" font-weight="normal" fill="#000" font-family='"Liberation Sans", Arial, Helvetica, sans-serif' >4</text>
<text x="231.0" y="2269.8" font-size="38" text-anchor="end" font-weight="normal" fill="#000" font-family='"Liberation Sans", Arial, Helvetica, sans-serif' >6</text>
<text x="231.0" y="2159.0" font-size="38" text-anchor="end" font-weight="normal" fill="#000" font-family='"Liberation Sans", Arial, Helvetica, sans-serif' >8</text>
<text x="249.8" y="2634.0" font-size="38" text-anchor="middle" font-weight="normal" fill="#000" font-family='"Liberation Sans", Arial, Helvetica, sans-serif' >170</text>
<text x="419.7" y="2634.0" font-size="38" text-anchor="middle" font-weight="normal" fill="#000" font-family='"Liberation Sans", Arial, Helvetica, sans-serif' >175</text>
<text x="589.5" y="2634.0" font-size="38" text-anchor="middle" font-weight="normal" fill="#000" font-family='"Liberation Sans", Arial, Helvetica, sans-serif' >180</text>
<text x="759.4" y="2634.0" font-size="38" text-anchor="middle" font-weight="normal" fill="#000" font-family='"Liberation Sans", Arial, Helvetica, sans-serif' >185</text>
<text x="929.3" y="2634.0" font-size="38" text-anchor="middle" font-weight="normal" fill="#000" font-family='"Liberation Sans", Arial, Helvetica, sans-serif' >190</text>
<text x="1099.2" y="2634.0" font-size="38" text-anchor="middle" font-weight="normal" fill="#000" font-family='"Liberation Sans", Arial, Helvetica, sans-serif' >195</text>
<text x="1269.0" y="2634.0" font-size="38" text-anchor="middle" font-weight="normal" fill="#000" font-family='"Liberation Sans", Arial, Helvetica, sans-serif' >200</text>
<text x="1438.9" y="2634.0" font-size="38" text-anchor="middle" font-weight="normal" fill="#000" font-family='"Liberation Sans", Arial, Helvetica, sans-serif' >205</text>
<text x="1608.8" y="2634.0" font-size="38" text-anchor="middle" font-weight="normal" fill="#000" font-family='"Liberation Sans", Arial, Helvetica, sans-serif' >210</text>
<text x="923.3" y="2703.0" font-size="38.2" text-anchor="middle" font-weight="bold" fill="#000" font-family='"Liberation Sans", Arial, Helvetica, sans-serif' >Wavelength [nm]</text>
<text x="298.0" y="2112.8" font-size="38.2" text-anchor="start" font-weight="bold" fill="#000" font-family='"Liberation Sans", Arial, Helvetica, sans-serif' >10 mbar CO<tspan font-size="23" dx="-1">2</tspan></text>
<line x1="1385.0" y1="2100.6" x2="1458.4" y2="2100.6" stroke="#38b2ad" stroke-width="5.4" stroke-linecap="round"/>
<text x="1466.0" y="2112.8" font-size="42" text-anchor="start" font-weight="normal" fill="#000" font-family='"Liberation Sans", Arial, Helvetica, sans-serif' word-spacing="1">60 km</text>
<line x1="1385.0" y1="2163.7" x2="1458.4" y2="2163.7" stroke="#4a3fc0" stroke-width="5.4" stroke-linecap="round"/>
<text x="1466.0" y="2175.9" font-size="42" text-anchor="start" font-weight="normal" fill="#000" font-family='"Liberation Sans", Arial, Helvetica, sans-serif' word-spacing="1">40 km</text>
<line x1="1385.0" y1="2228.3" x2="1458.4" y2="2228.3" stroke="#68bf2a" stroke-width="5.4" stroke-linecap="round"/>
<text x="1466.0" y="2240.5" font-size="42" text-anchor="start" font-weight="normal" fill="#000" font-family='"Liberation Sans", Arial, Helvetica, sans-serif' word-spacing="1">20 km</text>
<line x1="1385.0" y1="2291.4" x2="1458.4" y2="2291.4" stroke="#e2133c" stroke-width="5.4" stroke-linecap="round"/>
<text x="1466.0" y="2303.6" font-size="42" text-anchor="start" font-weight="normal" fill="#000" font-family='"Liberation Sans", Arial, Helvetica, sans-serif' word-spacing="1">10 km</text>
<line x1="1385.0" y1="2355.0" x2="1458.4" y2="2355.0" stroke="#e07428" stroke-width="5.4" stroke-linecap="round"/>
<text x="1466.0" y="2367.2" font-size="42" text-anchor="start" font-weight="normal" fill="#000" font-family='"Liberation Sans", Arial, Helvetica, sans-serif' word-spacing="1">0 km</text>
<text transform="translate(108.4 2327) rotate(-90)" font-size="38.2" text-anchor="middle" font-weight="bold" font-family='"Liberation Sans", Arial, Helvetica, sans-serif'>J (<tspan font-weight="normal" font-family="'DejaVu Sans', sans-serif">&#955;</tspan>)</text>
<text transform="translate(154.3 2321.5) rotate(-90)" font-size="38.2" text-anchor="middle" font-weight="bold" font-family='"Liberation Sans", Arial, Helvetica, sans-serif'>[x 10<tspan font-size="22" dy="-12">13</tspan><tspan dy="12"> /s]</tspan></text>
</svg>
</body></html>
